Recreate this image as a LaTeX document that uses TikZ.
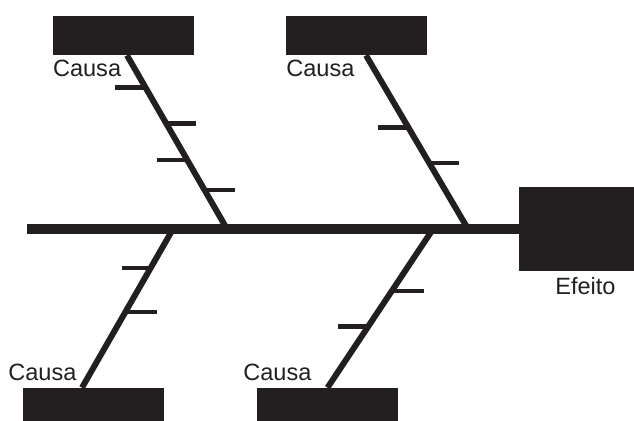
\documentclass[tikz,border=0pt]{standalone}
\usepackage{fontspec}
\setmainfont{Liberation Sans}
\usetikzlibrary{calc}
\definecolor{encre}{HTML}{231F20}

\begin{document}
\begin{tikzpicture}[x=0.02cm, y=-0.02cm]
\tikzset{boite/.style={fill=encre, draw=none, inner sep=0pt, minimum width=2.82cm, minimum height=0.78cm},
  epine/.style={draw=encre, line width=5.4pt},
  os/.style={draw=encre, line width=3.4pt},
  trait/.style={draw=encre, line width=2.6pt},
  etiquette/.style={text=encre, anchor=base west, inner sep=0pt, font=\fontsize{13.4}{16}\selectfont}}
\useasboundingbox (0,0) rectangle (634,421);
% boites
\node[boite] (C1) at (123.5,35.5) {};
\node[boite] (C2) at (356.5,35.5) {};
\node[boite, minimum height=0.66cm] (C3) at (93.5,404.5) {};
\node[boite, minimum height=0.66cm] (C4) at (327.5,404.5) {};
\node[boite, minimum width=2.3cm, minimum height=1.68cm] (E) at (576.5,229) {};
% epine
\coordinate (Q) at (27,229);
\coordinate (S1) at (227,229);
\coordinate (S2) at (468,229);
\coordinate (S3) at (173,229);
\coordinate (S4) at (433,229);
\draw[epine] (Q) -- (E.west);
% aretes
\draw[os] ($(C1.south)+(3.5,0)$) -- coordinate[pos=0.184] (a1) coordinate[pos=0.391] (a2)
  coordinate[pos=0.603] (a3) coordinate[pos=0.776] (a4) (S1);
\draw[os] ($(C2.south)+(9.5,0)$) -- coordinate[pos=0.414] (b1) coordinate[pos=0.621] (b2) (S2);
\draw[os] (S3) -- coordinate[pos=0.245] (c1) coordinate[pos=0.522] (c2) ($(C3.north)+(-11.5,0)$);
\draw[os] (S4) -- coordinate[pos=0.39] (d1) coordinate[pos=0.616] (d2) (C4.north);
% petits traits
\draw[trait] (a1) -- +(-30,0);
\draw[trait] (a2) -- +(30,0);
\draw[trait] (a3) -- +(-30,0);
\draw[trait] (a4) -- +(30,0);
\draw[trait] (b1) -- +(-30,0);
\draw[trait] (b2) -- +(30,0);
\draw[trait] (c1) -- +(-29,0);
\draw[trait] (c2) -- +(31,0);
\draw[trait] (d1) -- +(32,0);
\draw[trait] (d2) -- +(-30,0);
% textes
\node[etiquette] (L1) at (52.7,76.7) {Causa};
\node[etiquette] (L2) at (286,76.7) {Causa};
\node[etiquette] (L3) at (8,380) {Causa};
\node[etiquette] (L4) at (243,380) {Causa};
\node[etiquette] (L5) at (555,295) {Efeito};
\end{tikzpicture}
\end{document}
